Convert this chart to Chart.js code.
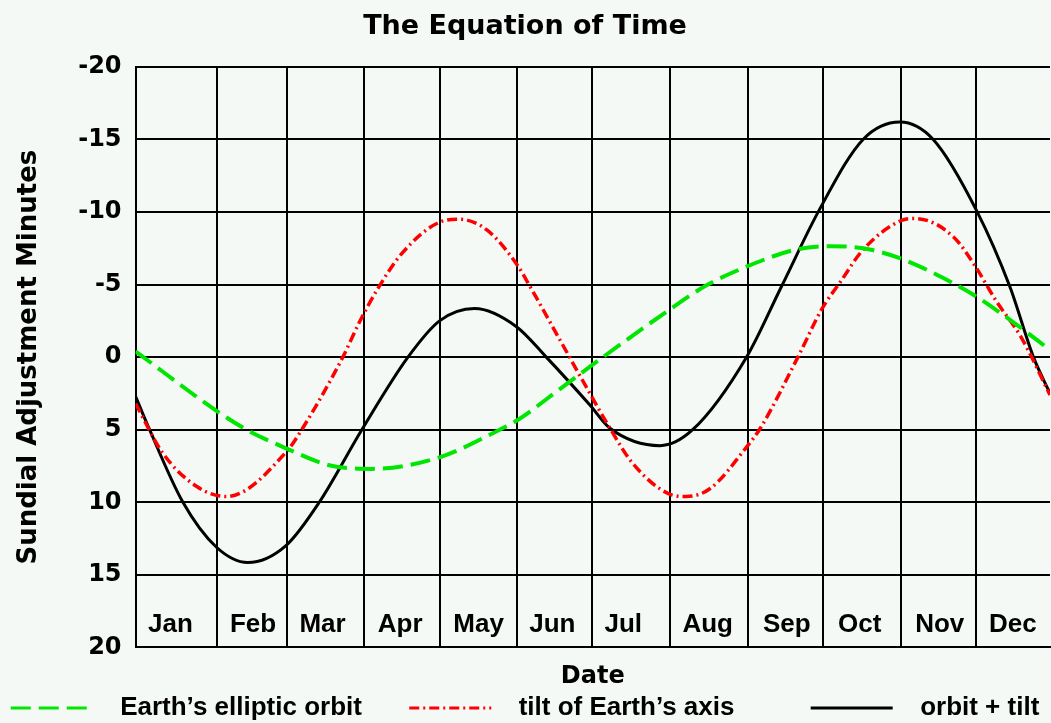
<!DOCTYPE html>
<html lang="en">
<head>
<meta charset="UTF-8">
<title>The Equation of Time</title>
<style>
    body {
        margin: 0;
        background: #f4f9f5;
        overflow: hidden;
    }
    canvas {
        display: block;
    }
</style>
</head>
<body>

<canvas id="eotChart" width="1051" height="723"></canvas>

<script src="https://cdn.jsdelivr.net/npm/chart.js"></script>
<script>
    // x values are day of year (0 = Jan 1), y values are minutes
    const orbitDays = [-1.3, 31, 43, 59, 76, 93, 120, 144, 151, 168, 184, 212, 226, 242, 262, 276, 289, 304, 326, 334, 349, 363.6];
    const orbitMinutes = [-0.4, 3.7, 5.0, 6.3, 7.45, 7.7, 6.9, 5.0, 4.35, 2.2, 0.15, -3.3, -4.9, -6.2, -7.4, -7.65, -7.5, -6.8, -5.0, -4.2, -2.4, -0.5];

    const tiltDays = [-1.3, 9.5, 23, 35, 59, 65, 81.4, 88, 96, 105, 120, 128, 139, 151, 156, 168, 180, 188, 197, 212, 218.5, 228, 242.5, 248, 263, 272.5, 280, 289, 304, 310, 325, 334, 342, 352, 363.6];
    const tiltMinutes = [3.2, 6.6, 8.9, 9.6, 6.5, 5.0, 0, -2.4, -4.9, -7.15, -9.3, -9.5, -8.75, -6.35, -4.9, -1.2, 2.5, 4.9, 7.3, 9.45, 9.6, 9.05, 6.2, 4.9, 0, -3.3, -5.2, -7.4, -9.4, -9.55, -8.3, -6.2, -3.9, -1.4, 2.6];

    const totalDays = [-1.3, 4.3, 17.6, 31, 43.5, 58.6, 72, 89, 107.4, 120, 134, 150.7, 162.6, 180, 188, 208, 221, 242.5, 256.4, 271.7, 289, 303.7, 317, 334.3, 347.6, 357, 363.6];
    const totalMinutes = [2.7, 5.0, 10.0, 13.1, 14.15, 13.0, 10.0, 5.0, 0, -2.5, -3.35, -2.1, 0, 3.3, 4.9, 6.1, 5.0, 0, -4.85, -10.2, -15.0, -16.2, -15.0, -10.1, -4.85, 0, 2.5];

    const seriesNames = ['Earth\u2019s elliptic orbit', 'tilt of Earth\u2019s axis', 'orbit + tilt'];

    const monthNames = ['Jan', 'Feb', 'Mar', 'Apr', 'May', 'Jun', 'Jul', 'Aug', 'Sep', 'Oct', 'Nov', 'Dec'];
    const monthStarts = [31, 59, 90, 120, 151, 181, 212, 243, 273, 304, 334];
    const monthLabelDays = [12.6, 45.6, 73.3, 104.3, 135.6, 165, 193.3, 227, 258.6, 287.7, 319.6, 348.8];

    const toPoints = (days, values) => days.map((d, i) => ({ x: d, y: values[i] }));

    const xMin = -1.3;
    const xMax = 363.6;

    Chart.defaults.color = '#000';

    // gaps between legend line and text, and between legend items
    const legendLead = [2, 2, 2];
    const legendTrail = [6, 10, 0];

    new Chart(document.getElementById('eotChart'), {
        type: 'line',
        data: {
            datasets: [
                {
                    label: seriesNames[0],
                    data: toPoints(orbitDays, orbitMinutes),
                    borderColor: '#00e600',
                    borderWidth: 4,
                    borderDash: [20, 8]
                },
                {
                    label: seriesNames[1],
                    data: toPoints(tiltDays, tiltMinutes),
                    borderColor: '#ff0000',
                    borderWidth: 3.5,
                    borderDash: [10, 4, 2, 4]
                },
                {
                    label: seriesNames[2],
                    data: toPoints(totalDays, totalMinutes),
                    borderColor: '#000000',
                    borderWidth: 3
                }
            ]
        },
        options: {
            responsive: false,
            animation: false,
            elements: {
                point: { radius: 0 },
                line: { fill: false, cubicInterpolationMode: 'monotone' }
            },
            layout: {
                padding: { left: 0, right: 1, top: 0, bottom: -8 }
            },
            plugins: {
                title: {
                    display: true,
                    text: 'The Equation of Time',
                    color: '#000',
                    font: { family: 'DejaVu Sans', size: 27, weight: 'bold' },
                    padding: { top: 10.5, bottom: 24 }
                },
                legend: {
                    position: 'bottom',
                    labels: {
                        usePointStyle: true,
                        pointStyle: 'line',
                        pointStyleWidth: 82,
                        padding: 4,
                        color: '#000',
                        font: { family: 'Liberation Sans', size: 26, weight: 'bold' },
                        generateLabels: chart => {
                            const items = Chart.defaults.plugins.legend.labels.generateLabels(chart);
                            items.forEach((item, i) => {
                                const ds = chart.data.datasets[i];
                                item.text = ' '.repeat(legendLead[i]) + seriesNames[i] + ' '.repeat(legendTrail[i]);
                                item.strokeStyle = ds.borderColor;
                                item.lineDash = ds.borderDash || [];
                                item.lineWidth = 3;
                            });
                            return items;
                        }
                    }
                },
                tooltip: { enabled: false }
            },
            scales: {
                x: {
                    type: 'linear',
                    position: 'bottom',
                    min: xMin,
                    max: xMax,
                    afterBuildTicks: axis => {
                        axis.ticks = monthStarts.map(v => ({ value: v }));
                    },
                    ticks: { display: false },
                    grid: { color: '#000', lineWidth: 2, drawTicks: false },
                    border: { display: true, color: '#000', width: 2 }
                },
                xm: {
                    type: 'linear',
                    position: 'bottom',
                    min: xMin,
                    max: xMax,
                    afterBuildTicks: axis => {
                        axis.ticks = monthLabelDays.map(v => ({ value: v }));
                    },
                    ticks: {
                        autoSkip: false,
                        maxRotation: 0,
                        minRotation: 0,
                        mirror: true,
                        padding: 7.4,
                        color: '#000',
                        font: { family: 'Liberation Sans', size: 26, weight: 'bold' },
                        callback: (value, index) => monthNames[index]
                    },
                    grid: { display: false, drawTicks: false },
                    border: { display: false },
                    title: {
                        display: true,
                        text: 'Date',
                        color: '#000',
                        font: { family: 'DejaVu Sans', size: 24, weight: 'bold' },
                        padding: { top: 0, bottom: 0 }
                    }
                },
                y: {
                    reverse: true,
                    min: -20,
                    max: 20,
                    ticks: {
                        stepSize: 5,
                        padding: 14,
                        color: '#000',
                        font: { family: 'DejaVu Sans', size: 24, weight: 'bold' }
                    },
                    grid: { color: '#000', lineWidth: 2, drawTicks: false },
                    border: { display: true, color: '#000', width: 2 },
                    title: {
                        display: true,
                        text: 'Sundial Adjustment Minutes',
                        color: '#000',
                        font: { family: 'DejaVu Sans', size: 26, weight: 'bold' },
                        padding: { top: 14, bottom: 19 }
                    }
                }
            }
        }
    });
</script>

</body>
</html>
